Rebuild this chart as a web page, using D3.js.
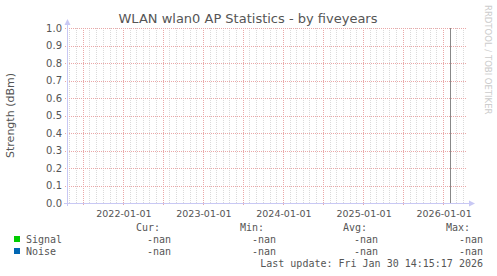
<!DOCTYPE html>
<html>
<head>
<meta charset="utf-8">
<script src="https://cdn.jsdelivr.net/npm/d3@7"></script>
<style>
  body { margin: 0; background: #fff; }
  svg { display: block; }
  text { fill: #555; }
</style>
</head>
<body>
<div id="chart"></div>
<script>
// chart data
const title = 'WLAN wlan0 AP Statistics - by fiveyears';
const yLabel = 'Strength (dBm)';
const yTicks = [0.0, 0.1, 0.2, 0.3, 0.4, 0.5, 0.6, 0.7, 0.8, 0.9, 1.0];
const xLabels = ['2022-01-01', '2023-01-01', '2024-01-01', '2025-01-01', '2026-01-01'];
const timeStart = '2021-04-21';
const timeEnd = '2026-04-20';
const lastUpdate = '2026-01-30T14:15:17';
const seriesNames = ['Signal', 'Noise'];
const seriesColors = ['#00cc00', '#0066b3'];
const curValues = ['-nan', '-nan'];
const minValues = ['-nan', '-nan'];
const avgValues = ['-nan', '-nan'];
const maxValues = ['-nan', '-nan'];
const legendHeads = ['Cur:', 'Min:', 'Avg:', 'Max:'];

const W = 497, H = 276;
const plotL = 67, plotR = 467, plotT = 28, plotB = 203;
const svg = d3.select('#chart').append('svg')
              .attr('width', W)
              .attr('height', H);

const parse = d3.timeParse('%Y-%m-%d');
const x = d3.scaleTime()
            .domain([parse(timeStart), parse(timeEnd)])
            .range([plotL, plotR]);
const y = d3.scaleLinear()
            .domain([0, 1])
            .range([plotB, plotT]);

//Grid
const grid = svg.append('g').attr('shape-rendering', 'crispEdges');
const months = d3.timeMonth.range(x.domain()[0], x.domain()[1]);
months.forEach(m => {
  let major = m.getMonth() % 6 === 0;
  let px = Math.round(x(m)) + 0.5;
  grid.append('line')
      .attr('x1', px).attr('x2', px)
      .attr('y1', plotT).attr('y2', plotB + (major ? 3 : 1))
      .attr('stroke', major ? '#eaa8a8' : '#dadada')
      .attr('stroke-dasharray', '1,1');
});
yTicks.forEach(t => {
  let py = Math.round(y(t)) + 0.5;
  grid.append('line')
      .attr('x1', plotL - 2).attr('x2', plotR)
      .attr('y1', py).attr('y2', py)
      .attr('stroke', '#eaa8a8')
      .attr('stroke-dasharray', '1,1');
});

//Now line
let nowX = Math.round(x(new Date(lastUpdate))) + 0.5;
svg.append('line')
   .attr('x1', nowX).attr('x2', nowX)
   .attr('y1', plotT).attr('y2', plotB)
   .attr('stroke', '#888')
   .attr('shape-rendering', 'crispEdges');

//Axes
const axisColor = '#c8c8f4';
svg.append('line')
   .attr('x1', plotL + 0.5).attr('x2', plotL + 0.5)
   .attr('y1', plotB + 3).attr('y2', plotT - 4)
   .attr('stroke', axisColor)
   .attr('shape-rendering', 'crispEdges');
svg.append('line')
   .attr('x1', plotL - 3).attr('x2', plotR + 3)
   .attr('y1', plotB + 0.5).attr('y2', plotB + 0.5)
   .attr('stroke', axisColor)
   .attr('shape-rendering', 'crispEdges');
svg.append('path')
   .attr('d', `M ${plotL - 2.5} ${plotT - 3} L ${plotL + 3.5} ${plotT - 3} L ${plotL + 0.5} ${plotT - 9} Z`)
   .attr('fill', axisColor);
svg.append('path')
   .attr('d', `M ${plotR + 2} ${plotB - 2.5} L ${plotR + 2} ${plotB + 3.5} L ${plotR + 8} ${plotB + 0.5} Z`)
   .attr('fill', axisColor);

//Tick labels
svg.append('g').selectAll('text')
   .data(yTicks)
   .join('text')
   .attr('x', plotL - 5)
   .attr('y', d => y(d) + 3.5)
   .attr('text-anchor', 'end')
   .attr('font-family', 'DejaVu Sans')
   .attr('font-size', 10)
   .text(d => d.toFixed(1));
svg.append('g').selectAll('text')
   .data(xLabels)
   .join('text')
   .attr('x', d => x(parse(d)) + 1)
   .attr('y', plotB + 14)
   .attr('text-anchor', 'middle')
   .attr('font-family', 'DejaVu Sans')
   .attr('font-size', 9.5)
   .text(d => d);

//Titles
svg.append('text')
   .attr('x', 248)
   .attr('y', 23)
   .attr('text-anchor', 'middle')
   .attr('font-family', 'DejaVu Sans')
   .attr('font-size', 13)
   .text(title);
svg.append('text')
   .attr('transform', `translate(14,${(plotT + plotB) / 2}) rotate(-90)`)
   .attr('text-anchor', 'middle')
   .attr('font-family', 'DejaVu Sans')
   .attr('font-size', 11)
   .text(yLabel);
svg.append('text')
   .attr('transform', 'translate(485,5) rotate(90)')
   .attr('font-family', 'DejaVu Sans')
   .attr('font-size', 8.5)
   .style('fill', '#ccc')
   .text('RRDTOOL / TOBI OETIKER');

//Legend
const mono = 'DejaVu Sans Mono';
const headX = [160, 264, 367, 470];
const valX = [171, 276, 378, 483];
svg.append('g').selectAll('text')
   .data(legendHeads)
   .join('text')
   .attr('x', (d, i) => headX[i])
   .attr('y', 231)
   .attr('text-anchor', 'end')
   .attr('font-family', mono)
   .attr('font-size', 10)
   .text(d => d);
seriesNames.forEach((name, i) => {
  let ry = 243 + i * 12;
  svg.append('rect')
     .attr('x', 14).attr('y', ry - 7)
     .attr('width', 6).attr('height', 6)
     .attr('fill', seriesColors[i]);
  svg.append('text')
     .attr('x', 26).attr('y', ry)
     .attr('font-family', mono)
     .attr('font-size', 10)
     .text(name);
  [curValues, minValues, avgValues, maxValues].forEach((vals, j) => {
    svg.append('text')
       .attr('x', valX[j]).attr('y', ry)
       .attr('text-anchor', 'end')
       .attr('font-family', mono)
       .attr('font-size', 10)
       .text(vals[i]);
  });
});
svg.append('text')
   .attr('x', 483)
   .attr('y', 267)
   .attr('text-anchor', 'end')
   .attr('font-family', mono)
   .attr('font-size', 10)
   .text('Last update: Fri Jan 30 14:15:17 2026');
</script>
</body>
</html>
